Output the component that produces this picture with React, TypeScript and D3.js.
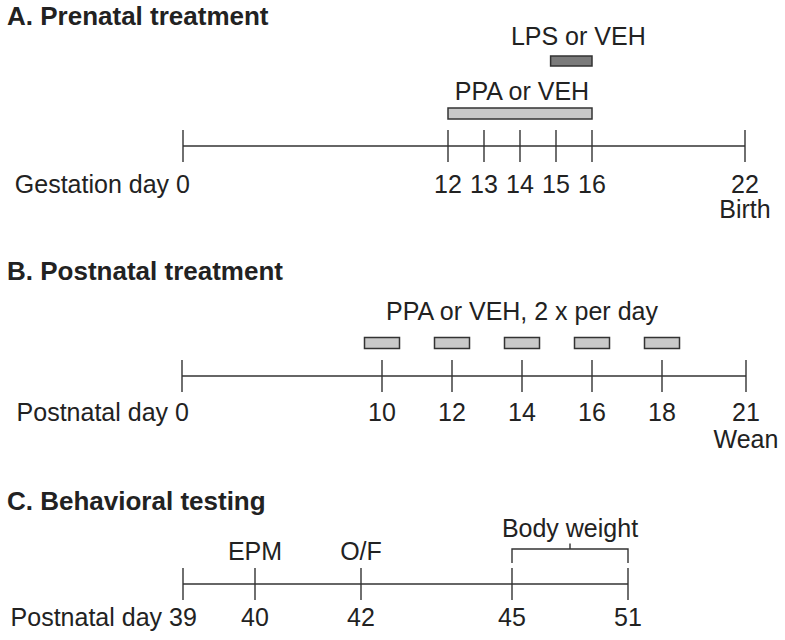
import React from "react";
import * as d3 from "d3";

// ---------- Data ----------
// Panel A: prenatal
const prenatalTitle = "A. Prenatal treatment";
const prenatalAxisLabel = "Gestation day";
const prenatalTicks = [0, 12, 13, 14, 15, 16, 22];
const prenatalAnchors = [0, 12, 16, 22]; // schematic breakpoints of the timeline
const prenatalSubLabelDay = 22;
const prenatalSubLabel = "Birth";
const prenatalBarLabels = ["PPA or VEH", "LPS or VEH"];
const prenatalBarStart = [12, 14.85];
const prenatalBarEnd = [16, 16];

// Panel B: postnatal
const postnatalTitle = "B. Postnatal treatment";
const postnatalAxisLabel = "Postnatal day";
const postnatalTicks = [0, 10, 12, 14, 16, 18, 21];
const postnatalAnchors = [0, 10, 18, 21];
const postnatalSubLabelDay = 21;
const postnatalSubLabel = "Wean";
const postnatalDoseDays = [10, 12, 14, 16, 18];
const postnatalDoseLabel = "PPA or VEH, 2 x per day";

// Panel C: behavioral testing
const behaviorTitle = "C. Behavioral testing";
const behaviorAxisLabel = "Postnatal day";
const behaviorTicks = [39, 40, 42, 45, 51];
const behaviorEventDays = [40, 42];
const behaviorEventLabels = ["EPM", "O/F"];
const bodyWeightRange = [45, 51];
const bodyWeightLabel = "Body weight";

// ---------- Styles ----------
const FONT = "'Liberation Sans', Arial, sans-serif";
const FS = 25;
const TFS = 26;
const TEXT = "#222";
const LINE = "#333";
const LIGHT = "#c9c9c9";
const DARK = "#7b7b7b";

const AxisRow = ({ x, y, ticks, label, labelY, sub, subDay, subY }) => {
  const [x0, x1] = [x(ticks[0]), x(ticks[ticks.length - 1])];
  return (
    <g>
      <line x1={x0} x2={x1} y1={y} y2={y} stroke={LINE} strokeWidth={1.4} />
      {ticks.map((t) => (
        <line key={"t" + t} x1={x(t)} x2={x(t)} y1={y - 16} y2={y + 16} stroke={LINE} strokeWidth={1.4} />
      ))}
      {ticks.map((t) => (
        <text key={"l" + t} x={x(t)} y={labelY} textAnchor="middle" fontSize={FS} fill={TEXT} fontFamily={FONT}>
          {t}
        </text>
      ))}
      <text
        x={x(ticks[0]) - (String(ticks[0]).length * FS * 0.556) / 2 - 7}
        y={labelY}
        textAnchor="end"
        fontSize={FS}
        fill={TEXT}
        fontFamily={FONT}
      >
        {label}
      </text>
      {sub && (
        <text x={x(subDay)} y={subY} textAnchor="middle" fontSize={FS} fill={TEXT} fontFamily={FONT}>
          {sub}
        </text>
      )}
    </g>
  );
};

export default function App() {
  const xA = d3.scaleLinear().domain(prenatalAnchors).range([183, 448, 592, 745]);
  const xB = d3.scaleLinear().domain(postnatalAnchors).range([182, 382, 662, 746]);
  const xC = d3.scaleLinear().domain(behaviorTicks).range([183, 255, 361, 512, 628]);

  const barW = xB(18) - xB(17);

  const prenatalBars = prenatalBarLabels.map((label, i) => ({
    label,
    start: prenatalBarStart[i],
    end: prenatalBarEnd[i],
    fill: i === 0 ? LIGHT : DARK,
    y: i === 0 ? 108 : 56,
    h: i === 0 ? 11 : 10,
    ty: i === 0 ? 100 : 45,
  }));

  const doseMin = xB(postnatalDoseDays[0]) - barW / 2;
  const doseMax = xB(postnatalDoseDays[postnatalDoseDays.length - 1]) + barW / 2;

  const bw0 = xC(bodyWeightRange[0]);
  const bw1 = xC(bodyWeightRange[1]);
  const bwMid = (bw0 + bw1) / 2;

  return (
    <svg
      width={785}
      height={640}
      style={{ position: "absolute", left: 0, top: 0, background: "#fff" }}
      fontFamily={FONT}
    >
      <rect x={0} y={0} width={785} height={640} fill="#fff" />

      {/* Panel A */}
      <text x={7} y={25} fontSize={TFS} fontWeight="bold" fill={TEXT}>{prenatalTitle}</text>
      {prenatalBars.map((b) => (
        <g key={b.label}>
          <rect
            x={xA(b.start)}
            y={b.y}
            width={xA(b.end) - xA(b.start)}
            height={b.h}
            fill={b.fill}
            stroke={LINE}
            strokeWidth={1.5}
          />
          <text
            x={(xA(b.start) + xA(b.end)) / 2 + (b.fill === DARK ? 7 : 2)}
            y={b.ty}
            textAnchor="middle"
            fontSize={FS}
            fill={TEXT}
          >
            {b.label}
          </text>
        </g>
      ))}
      <AxisRow
        x={xA}
        y={146}
        ticks={prenatalTicks}
        label={prenatalAxisLabel}
        labelY={193}
        sub={prenatalSubLabel}
        subDay={prenatalSubLabelDay}
        subY={218}
      />

      {/* Panel B */}
      <text x={7} y={280} fontSize={TFS} fontWeight="bold" fill={TEXT}>{postnatalTitle}</text>
      <text x={(doseMin + doseMax) / 2} y={319.5} textAnchor="middle" fontSize={FS} fill={TEXT}>
        {postnatalDoseLabel}
      </text>
      {postnatalDoseDays.map((d) => (
        <rect
          key={"dose" + d}
          x={xB(d) - barW / 2}
          y={337.5}
          width={barW}
          height={11}
          fill={LIGHT}
          stroke={LINE}
          strokeWidth={1.5}
        />
      ))}
      <AxisRow
        x={xB}
        y={376}
        ticks={postnatalTicks}
        label={postnatalAxisLabel}
        labelY={421}
        sub={postnatalSubLabel}
        subDay={postnatalSubLabelDay}
        subY={448}
      />

      {/* Panel C */}
      <text x={7} y={510} fontSize={TFS} fontWeight="bold" fill={TEXT}>{behaviorTitle}</text>
      {behaviorEventDays.map((d, i) => (
        <text key={"ev" + d} x={xC(d)} y={560} textAnchor="middle" fontSize={FS} fill={TEXT}>
          {behaviorEventLabels[i]}
        </text>
      ))}
      <path
        d={`M${bw0},563 V549 H${bw1} V563 M${bwMid},549 V543.5`}
        fill="none"
        stroke={LINE}
        strokeWidth={1.4}
      />
      <text x={bwMid} y={537} textAnchor="middle" fontSize={FS} fill={TEXT}>
        {bodyWeightLabel}
      </text>
      <AxisRow x={xC} y={584} ticks={behaviorTicks} label={behaviorAxisLabel} labelY={626} />
    </svg>
  );
}
